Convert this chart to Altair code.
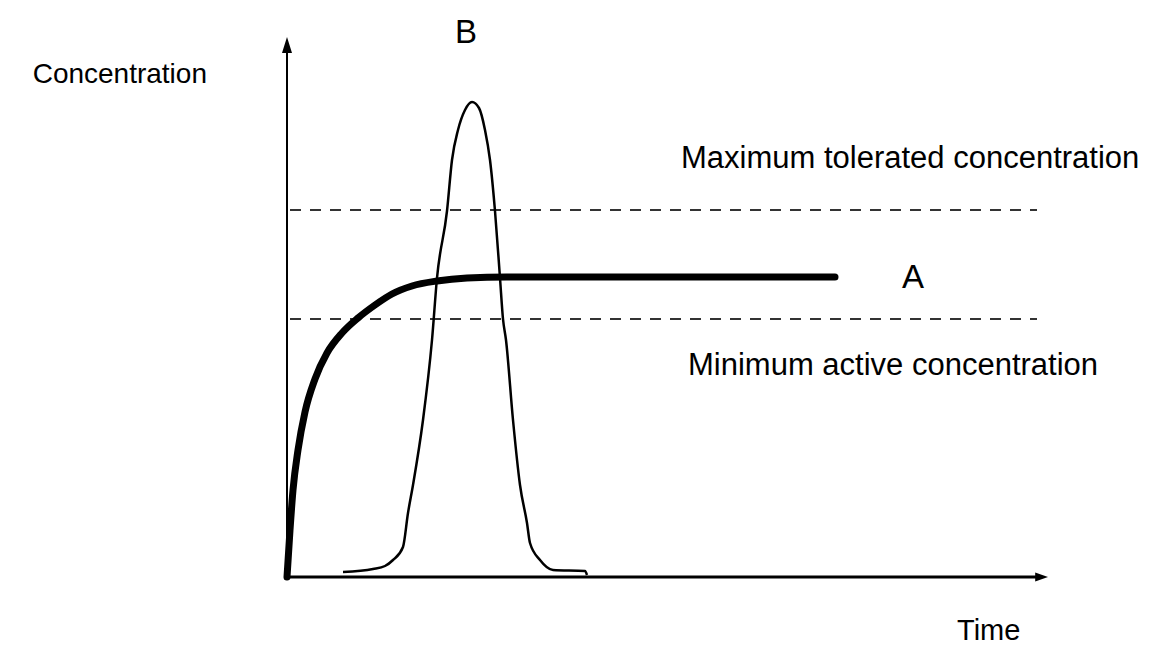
import altair as alt
import pandas as pd

# Curve A (sustained release) - time / concentration (arbitrary units)
a_time = [0, 3, 6, 11, 18, 28, 40, 55, 71, 88, 105, 125, 150, 180, 220, 548]
a_conc = [0, 47, 87, 127, 165, 198, 224, 244, 259, 272, 283, 291, 296, 299, 300, 300]

# Curve B (single peak)
b_time = [56, 86, 98, 106, 116, 121, 126, 136, 145, 150, 160, 165, 171, 178, 185,
          192, 198, 203, 208, 213, 216, 219, 226, 233, 240, 243, 253, 266, 298, 300]
b_conc = [5, 8, 11, 17, 30, 64, 92, 157, 237, 299, 366, 417, 447, 467, 475,
          469, 447, 417, 366, 299, 258, 237, 157, 92, 54, 34, 17, 7, 6, 2]

# Threshold levels
max_tolerated = 367
min_active = 258
threshold_start = 3
threshold_end = 750

# Axis extents
x_axis_end = 753
y_axis_end = 530

# Text annotations
label_text = ["Concentration", "B", "Maximum tolerated concentration", "A",
              "Minimum active concentration", "Time"]
label_x = [-80, 179, 394, 626, 401, 670]
label_y = [494, 534, 409, 289, 202, -63]
label_align = ["right", "center", "left", "center", "left", "left"]
label_size = [28, 33, 31, 33, 31, 29]

W, H = 1145, 639
xs = alt.Scale(domain=[-279, 866], nice=False, zero=False)
ys = alt.Scale(domain=[-70, 569], nice=False, zero=False)
X = lambda f: alt.X(f, type="quantitative", scale=xs, axis=None)
Y = lambda f: alt.Y(f, type="quantitative", scale=ys, axis=None)

df_a = pd.DataFrame({"t": a_time, "c": a_conc, "o": range(len(a_time))})
df_b = pd.DataFrame({"t": b_time, "c": b_conc, "o": range(len(b_time))})

x_axis = alt.Chart(pd.DataFrame({"x": [0], "x2": [x_axis_end], "y": [0]})).mark_rule(
    color="black", strokeWidth=3).encode(x=X("x"), x2="x2", y=Y("y"))
y_axis = alt.Chart(pd.DataFrame({"x": [0], "y": [0], "y2": [y_axis_end]})).mark_rule(
    color="black", strokeWidth=2).encode(x=X("x"), y=Y("y"), y2="y2")

arrow_up = alt.Chart(pd.DataFrame({"x": [0], "y": [y_axis_end]})).mark_point(
    shape="M0,-1L0.5,0.6L-0.5,0.6Z", filled=True, color="black", size=400, opacity=1,
    strokeWidth=0).encode(x=X("x"), y=Y("y"))
arrow_right = alt.Chart(pd.DataFrame({"x": [x_axis_end], "y": [0]})).mark_point(
    shape="M1,0L-0.6,0.55L-0.6,-0.55Z", filled=True, color="black", size=256, opacity=1,
    strokeWidth=0).encode(x=X("x"), y=Y("y"))

thr_df = pd.DataFrame({"x": [threshold_start] * 2, "x2": [threshold_end] * 2,
                       "y": [max_tolerated, min_active]})
thresholds = alt.Chart(thr_df).mark_rule(color="#333333", strokeWidth=2, strokeDash=[11, 9]).encode(
    x=X("x"), x2="x2", y=Y("y"))

curve_b = alt.Chart(df_b).mark_line(color="black", strokeWidth=2.5, interpolate="monotone").encode(
    x=X("t"), y=Y("c"), order="o")
curve_a = alt.Chart(df_a).mark_line(color="black", strokeWidth=7, strokeCap="round",
                                    interpolate="monotone").encode(
    x=X("t"), y=Y("c"), order="o")

lab_df = pd.DataFrame({"text": label_text, "x": label_x, "y": label_y})
labels = []
for i in range(len(label_text)):
    labels.append(
        alt.Chart(lab_df.iloc[[i]]).mark_text(
            align=label_align[i], baseline="alphabetic", fontSize=label_size[i],
            font="Liberation Sans", color="black").encode(
            x=X("x"), y=Y("y"), text="text:N"))

chart = alt.layer(thresholds, curve_b, curve_a, x_axis, y_axis, arrow_up, arrow_right, *labels).properties(
    width=W, height=H, padding=0, autosize=alt.AutoSizeParams(type="none")
).configure_view(stroke=None)

chart.save("out.html", embed_options={"renderer": "svg", "actions": False})
